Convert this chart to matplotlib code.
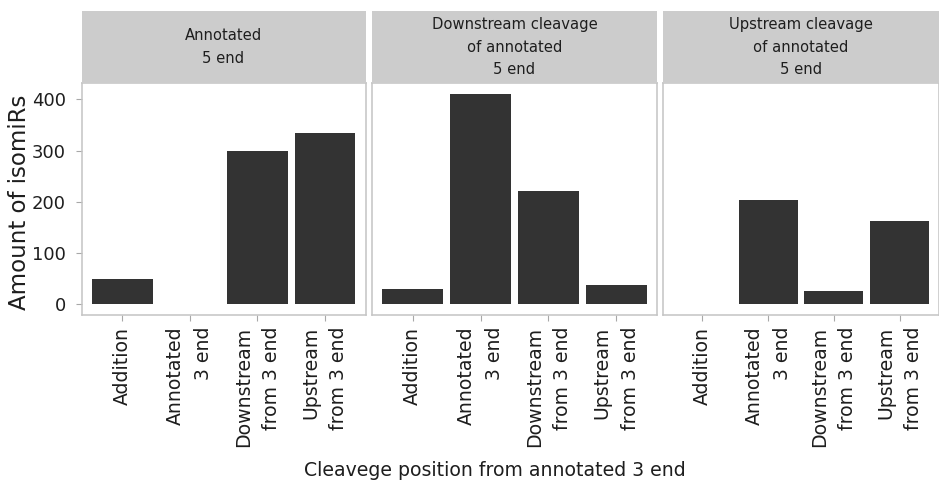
import matplotlib
matplotlib.use("Agg")
import matplotlib.pyplot as plt
from matplotlib.patches import Rectangle

# Data: counts of isomiRs per 3' cleavage class, faceted by 5' end class
categories = ["Addition", "Annotated\n3 end", "Downstream\nfrom 3 end", "Upstream\nfrom 3 end"]
facets = ["Annotated\n5 end",
          "Downstream cleavage\nof annotated\n5 end",
          "Upstream cleavage\nof annotated\n5 end"]
annotated_5end = [50, 0, 299, 335]
downstream_5end = [30, 411, 221, 38]
upstream_5end = [0, 203, 27, 162]
series = [annotated_5end, downstream_5end, upstream_5end]
y_ticks = [0, 100, 200, 300, 400]

plt.rcParams["font.family"] = ["DejaVu Sans"]

W, H = 939, 483
fig = plt.figure(figsize=(W / 100, H / 100), dpi=100)

# panel extents in pixels (left, right)
panel_x = [(81.5, 365.5), (372, 657), (663, 939)]
strip_top, panel_top, panel_bottom = 11, 83, 315

bar_color = "#333333"
border_color = "#C4C4C4"
strip_color = "#CCCCCC"
tick_color = "#A8A8A8"
text_color = "#1E1E1E"

ymax = max(max(s) for s in series)
ylo, yhi = -0.05 * ymax, 1.05 * ymax
xs = list(range(len(categories)))

def frac(x0, x1, y0, y1):
    return [x0 / W, 1 - y1 / H, (x1 - x0) / W, (y1 - y0) / H]

for i, ((x0, x1), values, title) in enumerate(zip(panel_x, series, facets)):
    ax = fig.add_axes(frac(x0, x1, panel_top, panel_bottom))
    ax.bar(xs, values, width=0.9, color=bar_color, edgecolor="none")
    ax.set_xlim(-0.6, len(categories) - 0.4)
    ax.set_ylim(ylo, yhi)
    ax.set_xticks(xs)
    ax.set_xticklabels(categories, rotation=90, ha="center", va="top",
                       multialignment="right", fontsize=13.6, color=text_color,
                       linespacing=1.6)
    ax.set_yticks(y_ticks)
    if i == 0:
        ax.set_yticklabels([str(v) for v in y_ticks], fontsize=13, color=text_color)
    else:
        ax.tick_params(axis="y", left=False, labelleft=False)
    ax.tick_params(axis="both", length=4.3, width=0.8, color=tick_color)
    ax.tick_params(axis="x", pad=4)
    ax.tick_params(axis="y", pad=6.8)
    for sp in ax.spines.values():
        sp.set_color(border_color)
        sp.set_linewidth(1.1)

    # facet strip
    sax = fig.add_axes(frac(x0, x1, strip_top, panel_top))
    sax.set_xlim(0, 1)
    sax.set_ylim(0, 1)
    sax.add_patch(Rectangle((0, 0), 1, 1, facecolor=strip_color, edgecolor="none"))
    sax.axis("off")
    sax.text(0.5, 0.5, title, ha="center", va="center", fontsize=10.6,
             color=text_color, linespacing=1.65)

fig.text(20 / W, 1 - 202 / H, "Amount of isomiRs", rotation=90, ha="center",
         va="center", fontsize=16.5, color=text_color)
fig.text(495 / W, 1 - 470 / H, "Cleavege position from annotated 3 end",
         ha="center", va="center", fontsize=13.6, color=text_color)

fig.savefig("out.png", dpi=100, facecolor="white")
